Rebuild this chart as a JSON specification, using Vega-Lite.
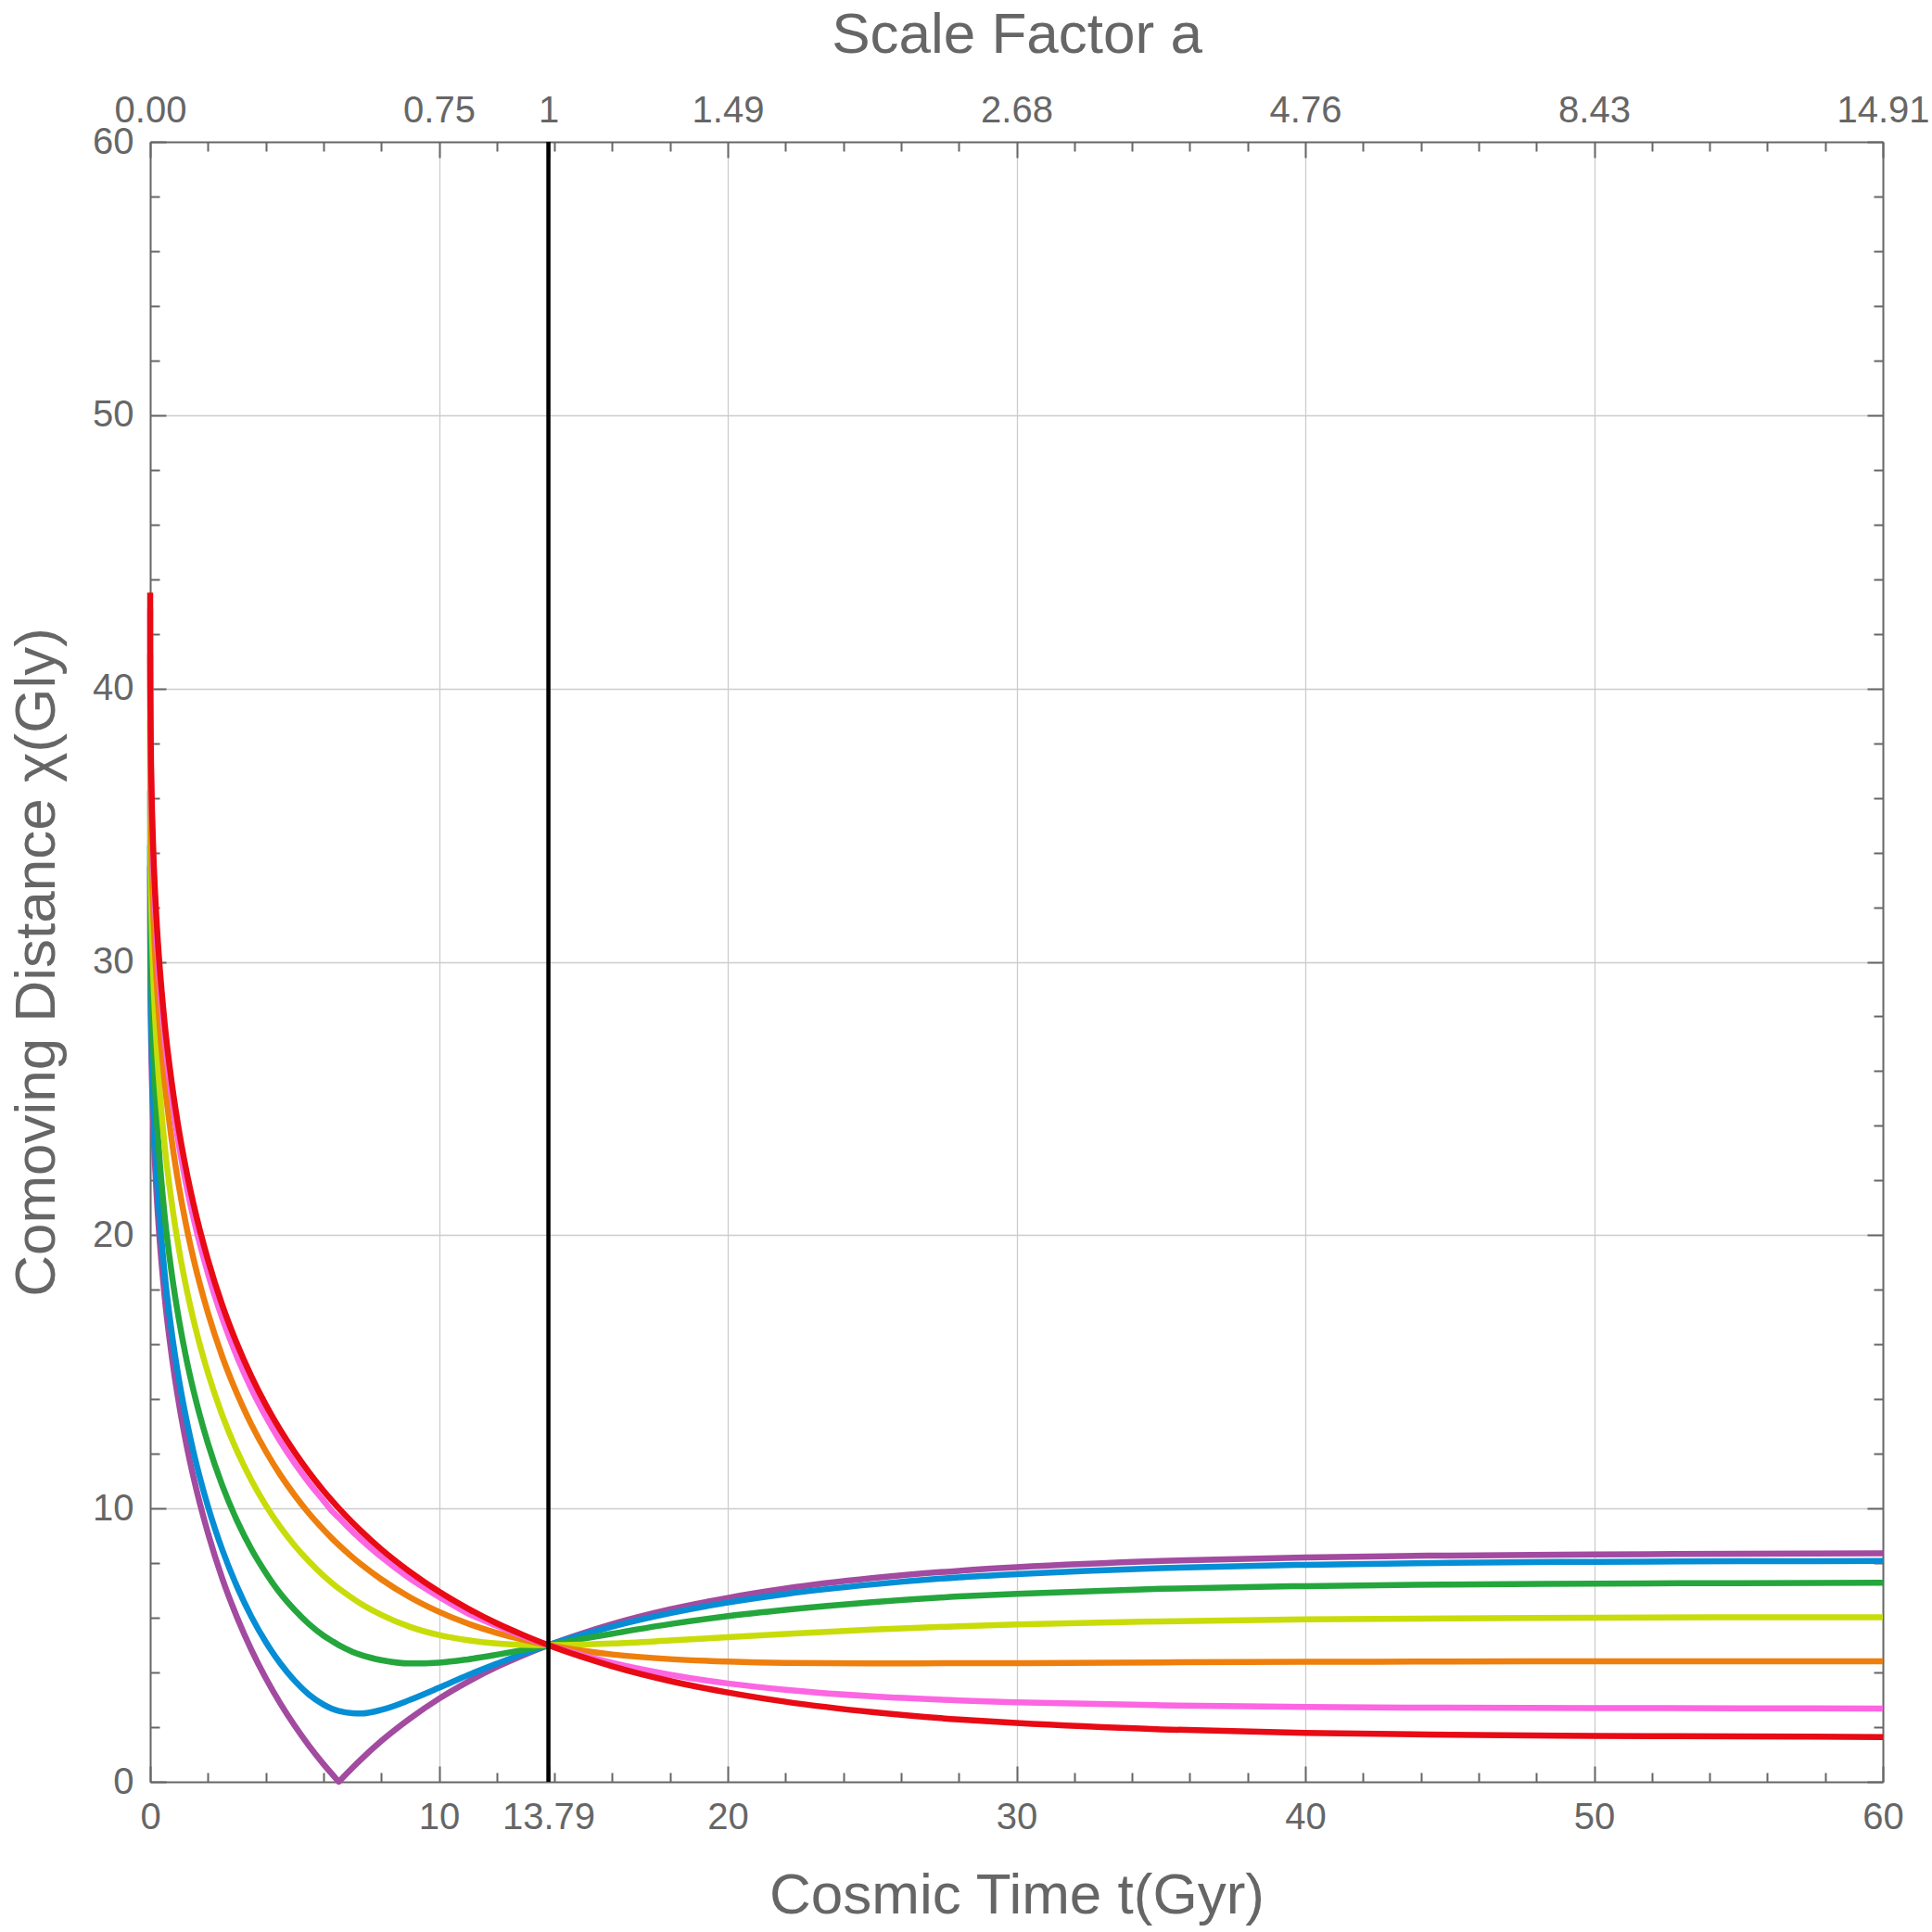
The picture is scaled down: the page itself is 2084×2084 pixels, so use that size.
{
  "$schema": "https://vega.github.io/schema/vega-lite/v6.json",
  "width": 1869,
  "height": 1769,
  "autosize": "none",
  "padding": {"left": 162, "top": 153, "right": 53, "bottom": 162},
  "background": "white",
  "config": {
    "font": "Liberation Sans",
    "view": {"stroke": null},
    "axis": {
      "domainColor": "#666666",
      "domainWidth": 2,
      "tickColor": "#666666",
      "tickWidth": 2,
      "labelColor": "#666666",
      "labelFont": "Liberation Sans",
      "labelFontSize": 40,
      "titleColor": "#666666",
      "titleFont": "Liberation Sans",
      "titleFontSize": 62,
      "titleFontWeight": "normal",
      "gridColor": "#cccccc",
      "gridWidth": 1.3,
      "labelFlush": false,
      "labelOverlap": false,
      "labelBound": false
    }
  },
  "resolve": {"axis": {"x": "independent", "y": "independent"}},
  "layer": [
    {
      "data": {
        "values": [
          {"t":0,"s":"a0","c":33.51},{"t":0.001,"s":"a0","c":31.52},{"t":0.005,"s":"a0","c":30.11},{"t":0.02,"s":"a0","c":28.12},{"t":0.05,"s":"a0","c":26.2},{"t":0.1,"s":"a0","c":24.3},{"t":0.2,"s":"a0","c":21.91},{"t":0.3,"s":"a0","c":20.23},{"t":0.5,"s":"a0","c":17.76},{"t":0.75,"s":"a0","c":15.55},{"t":1,"s":"a0","c":13.81},{"t":1.25,"s":"a0","c":12.37},{"t":1.5,"s":"a0","c":11.14},{"t":2,"s":"a0","c":9.1},{"t":2.5,"s":"a0","c":7.43},{"t":3,"s":"a0","c":6.04},{"t":3.5,"s":"a0","c":4.84},{"t":4,"s":"a0","c":3.8},{"t":4.5,"s":"a0","c":2.88},{"t":5,"s":"a0","c":2.06},{"t":5.5,"s":"a0","c":1.32},{"t":6,"s":"a0","c":0.65},{"t":6.3,"s":"a0","c":0.28},{"t":6.5,"s":"a0","c":0.04},{"t":6.536,"s":"a0","c":0},{"t":6.57,"s":"a0","c":0.04},{"t":7,"s":"a0","c":0.51},{"t":7.3,"s":"a0","c":0.82},{"t":8,"s":"a0","c":1.49},{"t":9,"s":"a0","c":2.32},{"t":10,"s":"a0","c":3.04},{"t":11,"s":"a0","c":3.66},{"t":12,"s":"a0","c":4.2},{"t":12.9,"s":"a0","c":4.62},{"t":13.79,"s":"a0","c":5},{"t":14.9,"s":"a0","c":5.41},{"t":16,"s":"a0","c":5.77},{"t":18,"s":"a0","c":6.31},{"t":20,"s":"a0","c":6.73},{"t":22,"s":"a0","c":7.07},{"t":25,"s":"a0","c":7.45},{"t":28,"s":"a0","c":7.72},{"t":30,"s":"a0","c":7.85},{"t":35,"s":"a0","c":8.08},{"t":40,"s":"a0","c":8.21},{"t":45,"s":"a0","c":8.28},{"t":50,"s":"a0","c":8.32},{"t":55,"s":"a0","c":8.34},{"t":60,"s":"a0","c":8.36},

          {"t":0,"s":"a30","c":34.27},{"t":0.001,"s":"a30","c":32.29},{"t":0.005,"s":"a30","c":30.88},{"t":0.02,"s":"a30","c":28.9},{"t":0.05,"s":"a30","c":26.99},{"t":0.1,"s":"a30","c":25.09},{"t":0.2,"s":"a30","c":22.72},{"t":0.3,"s":"a30","c":21.05},{"t":0.5,"s":"a30","c":18.6},{"t":0.75,"s":"a30","c":16.41},{"t":1,"s":"a30","c":14.69},{"t":1.25,"s":"a30","c":13.28},{"t":1.5,"s":"a30","c":12.07},{"t":2,"s":"a30","c":10.08},{"t":2.5,"s":"a30","c":8.48},{"t":3,"s":"a30","c":7.16},{"t":3.5,"s":"a30","c":6.05},{"t":4,"s":"a30","c":5.12},{"t":4.5,"s":"a30","c":4.34},{"t":5,"s":"a30","c":3.7},{"t":5.5,"s":"a30","c":3.19},{"t":6,"s":"a30","c":2.83},{"t":6.3,"s":"a30","c":2.67},{"t":6.536,"s":"a30","c":2.59},{"t":7,"s":"a30","c":2.51},{"t":7.3,"s":"a30","c":2.5},{"t":8,"s":"a30","c":2.63},{"t":9,"s":"a30","c":3},{"t":10,"s":"a30","c":3.44},{"t":11,"s":"a30","c":3.9},{"t":12,"s":"a30","c":4.32},{"t":12.9,"s":"a30","c":4.68},{"t":13.79,"s":"a30","c":5},{"t":14.9,"s":"a30","c":5.36},{"t":16,"s":"a30","c":5.68},{"t":18,"s":"a30","c":6.17},{"t":20,"s":"a30","c":6.56},{"t":22,"s":"a30","c":6.87},{"t":25,"s":"a30","c":7.22},{"t":28,"s":"a30","c":7.48},{"t":30,"s":"a30","c":7.6},{"t":35,"s":"a30","c":7.82},{"t":40,"s":"a30","c":7.94},{"t":45,"s":"a30","c":8.01},{"t":50,"s":"a30","c":8.05},{"t":55,"s":"a30","c":8.07},{"t":60,"s":"a30","c":8.08},

          {"t":0,"s":"a60","c":36.27},{"t":0.001,"s":"a60","c":34.29},{"t":0.005,"s":"a60","c":32.9},{"t":0.02,"s":"a60","c":30.93},{"t":0.05,"s":"a60","c":29.03},{"t":0.1,"s":"a60","c":27.15},{"t":0.2,"s":"a60","c":24.79},{"t":0.3,"s":"a60","c":23.14},{"t":0.5,"s":"a60","c":20.72},{"t":0.75,"s":"a60","c":18.56},{"t":1,"s":"a60","c":16.88},{"t":1.25,"s":"a60","c":15.49},{"t":1.5,"s":"a60","c":14.31},{"t":2,"s":"a60","c":12.38},{"t":2.5,"s":"a60","c":10.83},{"t":3,"s":"a60","c":9.57},{"t":3.5,"s":"a60","c":8.52},{"t":4,"s":"a60","c":7.65},{"t":4.5,"s":"a60","c":6.9},{"t":5,"s":"a60","c":6.29},{"t":5.5,"s":"a60","c":5.77},{"t":6,"s":"a60","c":5.35},{"t":6.3,"s":"a60","c":5.15},{"t":6.536,"s":"a60","c":5},{"t":7,"s":"a60","c":4.76},{"t":7.3,"s":"a60","c":4.64},{"t":8,"s":"a60","c":4.45},{"t":9,"s":"a60","c":4.33},{"t":10,"s":"a60","c":4.36},{"t":11,"s":"a60","c":4.48},{"t":12,"s":"a60","c":4.65},{"t":12.9,"s":"a60","c":4.82},{"t":13.79,"s":"a60","c":5},{"t":14.9,"s":"a60","c":5.22},{"t":16,"s":"a60","c":5.42},{"t":18,"s":"a60","c":5.77},{"t":20,"s":"a60","c":6.06},{"t":22,"s":"a60","c":6.29},{"t":25,"s":"a60","c":6.57},{"t":28,"s":"a60","c":6.78},{"t":30,"s":"a60","c":6.88},{"t":35,"s":"a60","c":7.06},{"t":40,"s":"a60","c":7.16},{"t":45,"s":"a60","c":7.22},{"t":50,"s":"a60","c":7.25},{"t":55,"s":"a60","c":7.27},{"t":60,"s":"a60","c":7.28},

          {"t":0,"s":"a90","c":38.83},{"t":0.001,"s":"a90","c":36.86},{"t":0.005,"s":"a90","c":35.46},{"t":0.02,"s":"a90","c":33.5},{"t":0.05,"s":"a90","c":31.6},{"t":0.1,"s":"a90","c":29.72},{"t":0.2,"s":"a90","c":27.37},{"t":0.3,"s":"a90","c":25.72},{"t":0.5,"s":"a90","c":23.3},{"t":0.75,"s":"a90","c":21.15},{"t":1,"s":"a90","c":19.46},{"t":1.25,"s":"a90","c":18.08},{"t":1.5,"s":"a90","c":16.9},{"t":2,"s":"a90","c":14.96},{"t":2.5,"s":"a90","c":13.4},{"t":3,"s":"a90","c":12.12},{"t":3.5,"s":"a90","c":11.04},{"t":4,"s":"a90","c":10.12},{"t":4.5,"s":"a90","c":9.33},{"t":5,"s":"a90","c":8.65},{"t":5.5,"s":"a90","c":8.06},{"t":6,"s":"a90","c":7.54},{"t":6.3,"s":"a90","c":7.27},{"t":6.536,"s":"a90","c":7.07},{"t":7,"s":"a90","c":6.72},{"t":7.3,"s":"a90","c":6.51},{"t":8,"s":"a90","c":6.11},{"t":9,"s":"a90","c":5.67},{"t":10,"s":"a90","c":5.37},{"t":11,"s":"a90","c":5.18},{"t":12,"s":"a90","c":5.06},{"t":12.9,"s":"a90","c":5.01},{"t":13.79,"s":"a90","c":5},{"t":14.9,"s":"a90","c":5.02},{"t":16,"s":"a90","c":5.06},{"t":18,"s":"a90","c":5.17},{"t":20,"s":"a90","c":5.29},{"t":22,"s":"a90","c":5.41},{"t":25,"s":"a90","c":5.57},{"t":28,"s":"a90","c":5.69},{"t":30,"s":"a90","c":5.76},{"t":35,"s":"a90","c":5.87},{"t":40,"s":"a90","c":5.94},{"t":45,"s":"a90","c":5.98},{"t":50,"s":"a90","c":6},{"t":55,"s":"a90","c":6.02},{"t":60,"s":"a90","c":6.02},

          {"t":0,"s":"a120","c":41.24},{"t":0.001,"s":"a120","c":39.26},{"t":0.005,"s":"a120","c":37.86},{"t":0.02,"s":"a120","c":35.88},{"t":0.05,"s":"a120","c":33.98},{"t":0.1,"s":"a120","c":32.09},{"t":0.2,"s":"a120","c":29.73},{"t":0.3,"s":"a120","c":28.07},{"t":0.5,"s":"a120","c":25.63},{"t":0.75,"s":"a120","c":23.45},{"t":1,"s":"a120","c":21.75},{"t":1.25,"s":"a120","c":20.34},{"t":1.5,"s":"a120","c":19.14},{"t":2,"s":"a120","c":17.16},{"t":2.5,"s":"a120","c":15.55},{"t":3,"s":"a120","c":14.22},{"t":3.5,"s":"a120","c":13.08},{"t":4,"s":"a120","c":12.1},{"t":4.5,"s":"a120","c":11.24},{"t":5,"s":"a120","c":10.49},{"t":5.5,"s":"a120","c":9.82},{"t":6,"s":"a120","c":9.23},{"t":6.3,"s":"a120","c":8.9},{"t":6.536,"s":"a120","c":8.66},{"t":7,"s":"a120","c":8.22},{"t":7.3,"s":"a120","c":7.96},{"t":8,"s":"a120","c":7.41},{"t":9,"s":"a120","c":6.75},{"t":10,"s":"a120","c":6.22},{"t":11,"s":"a120","c":5.79},{"t":12,"s":"a120","c":5.45},{"t":12.9,"s":"a120","c":5.2},{"t":13.79,"s":"a120","c":5},{"t":14.9,"s":"a120","c":4.81},{"t":16,"s":"a120","c":4.66},{"t":18,"s":"a120","c":4.49},{"t":20,"s":"a120","c":4.4},{"t":22,"s":"a120","c":4.35},{"t":25,"s":"a120","c":4.33},{"t":28,"s":"a120","c":4.34},{"t":30,"s":"a120","c":4.34},{"t":35,"s":"a120","c":4.37},{"t":40,"s":"a120","c":4.39},{"t":45,"s":"a120","c":4.4},{"t":50,"s":"a120","c":4.41},{"t":55,"s":"a120","c":4.41},{"t":60,"s":"a120","c":4.41},

          {"t":0,"s":"a150","c":42.91},{"t":0.001,"s":"a150","c":40.93},{"t":0.005,"s":"a150","c":39.52},{"t":0.02,"s":"a150","c":37.53},{"t":0.05,"s":"a150","c":35.62},{"t":0.1,"s":"a150","c":33.72},{"t":0.2,"s":"a150","c":31.34},{"t":0.3,"s":"a150","c":29.67},{"t":0.5,"s":"a150","c":27.21},{"t":0.75,"s":"a150","c":25.01},{"t":1,"s":"a150","c":23.27},{"t":1.25,"s":"a150","c":21.84},{"t":1.5,"s":"a150","c":20.62},{"t":2,"s":"a150","c":18.6},{"t":2.5,"s":"a150","c":16.95},{"t":3,"s":"a150","c":15.57},{"t":3.5,"s":"a150","c":14.39},{"t":4,"s":"a150","c":13.37},{"t":4.5,"s":"a150","c":12.46},{"t":5,"s":"a150","c":11.66},{"t":5.5,"s":"a150","c":10.94},{"t":6,"s":"a150","c":10.29},{"t":6.3,"s":"a150","c":9.9},{"t":6.536,"s":"a150","c":9.66},{"t":7,"s":"a150","c":9.16},{"t":7.3,"s":"a150","c":8.87},{"t":8,"s":"a150","c":8.23},{"t":9,"s":"a150","c":7.43},{"t":10,"s":"a150","c":6.77},{"t":11,"s":"a150","c":6.16},{"t":12,"s":"a150","c":5.71},{"t":12.9,"s":"a150","c":5.33},{"t":13.79,"s":"a150","c":5},{"t":14.9,"s":"a150","c":4.65},{"t":16,"s":"a150","c":4.35},{"t":18,"s":"a150","c":3.92},{"t":20,"s":"a150","c":3.6},{"t":22,"s":"a150","c":3.37},{"t":25,"s":"a150","c":3.13},{"t":28,"s":"a150","c":2.98},{"t":30,"s":"a150","c":2.91},{"t":35,"s":"a150","c":2.8},{"t":40,"s":"a150","c":2.74},{"t":45,"s":"a150","c":2.71},{"t":50,"s":"a150","c":2.7},{"t":55,"s":"a150","c":2.69},{"t":60,"s":"a150","c":2.68},

          {"t":0,"s":"a180","c":43.51},{"t":0.001,"s":"a180","c":41.52},{"t":0.005,"s":"a180","c":40.11},{"t":0.02,"s":"a180","c":38.12},{"t":0.05,"s":"a180","c":36.2},{"t":0.1,"s":"a180","c":34.3},{"t":0.2,"s":"a180","c":31.91},{"t":0.3,"s":"a180","c":30.23},{"t":0.5,"s":"a180","c":27.76},{"t":0.75,"s":"a180","c":25.55},{"t":1,"s":"a180","c":23.81},{"t":1.25,"s":"a180","c":22.37},{"t":1.5,"s":"a180","c":21.14},{"t":2,"s":"a180","c":19.1},{"t":2.5,"s":"a180","c":17.43},{"t":3,"s":"a180","c":16.04},{"t":3.5,"s":"a180","c":14.84},{"t":4,"s":"a180","c":13.8},{"t":4.5,"s":"a180","c":12.88},{"t":5,"s":"a180","c":12.06},{"t":5.5,"s":"a180","c":11.32},{"t":6,"s":"a180","c":10.65},{"t":6.3,"s":"a180","c":10.28},{"t":6.536,"s":"a180","c":10},{"t":7,"s":"a180","c":9.49},{"t":7.3,"s":"a180","c":9.18},{"t":8,"s":"a180","c":8.51},{"t":9,"s":"a180","c":7.68},{"t":10,"s":"a180","c":6.96},{"t":11,"s":"a180","c":6.34},{"t":12,"s":"a180","c":5.8},{"t":12.9,"s":"a180","c":5.38},{"t":13.79,"s":"a180","c":5},{"t":14.9,"s":"a180","c":4.59},{"t":16,"s":"a180","c":4.23},{"t":18,"s":"a180","c":3.69},{"t":20,"s":"a180","c":3.27},{"t":22,"s":"a180","c":2.93},{"t":25,"s":"a180","c":2.55},{"t":28,"s":"a180","c":2.28},{"t":30,"s":"a180","c":2.15},{"t":35,"s":"a180","c":1.92},{"t":40,"s":"a180","c":1.79},{"t":45,"s":"a180","c":1.72},{"t":50,"s":"a180","c":1.68},{"t":55,"s":"a180","c":1.66},{"t":60,"s":"a180","c":1.64}
        ]
      },
      "mark": {"type": "line", "interpolate": "monotone", "strokeWidth": 6.5, "strokeJoin": "round"},
      "encoding": {
        "x": {
          "field": "t",
          "type": "quantitative",
          "scale": {"domain": [0, 60], "nice": false},
          "axis": {
            "orient": "bottom",
            "title": "Cosmic Time t(Gyr)",
            "titleY": 141,
            "titleBaseline": "alphabetic",
            "values": [0,2,4,6,8,10,12,13.79,14,16,18,20,22,24,26,28,30,32,34,36,38,40,42,44,46,48,50,52,54,56,58,60],
            "format": ".2~f",
            "labelExpr": "datum.value % 10 === 0 || datum.value === 13.79 ? datum.label : ''",
            "labelBaseline": "alphabetic",
            "labelPadding": 67,
            "grid": true,
            "gridOpacity": {"condition": {"test": "datum.value % 10 === 0 && datum.value > 0 && datum.value < 60", "value": 1}, "value": 0},
            "tickSize": {"condition": {"test": "datum.value % 10 === 0 || datum.value === 13.79", "value": -17}, "value": -10}
          }
        },
        "y": {
          "field": "c",
          "type": "quantitative",
          "scale": {"domain": [0, 60], "nice": false},
          "axis": {
            "orient": "left",
            "title": "Comoving Distance χ(Gly)",
            "titleX": -104,
            "titleBaseline": "alphabetic",
            "values": [0,2,4,6,8,10,12,14,16,18,20,22,24,26,28,30,32,34,36,38,40,42,44,46,48,50,52,54,56,58,60],
            "format": "d",
            "labelExpr": "datum.value % 10 === 0 ? datum.label : ''",
            "labelPadding": 35,
            "grid": true,
            "gridOpacity": {"condition": {"test": "datum.value % 10 === 0 && datum.value > 0 && datum.value < 60", "value": 1}, "value": 0},
            "tickSize": {"condition": {"test": "datum.value % 10 === 0", "value": -17}, "value": -10}
          }
        },
        "color": {
          "field": "s",
          "type": "nominal",
          "scale": {
            "domain": ["a0", "a30", "a60", "a90", "a120", "a150", "a180"],
            "range": ["#A24BA0", "#058ED5", "#24A63C", "#C8DC0A", "#EE7F0C", "#FC66E2", "#E80A14"]
          },
          "legend": null
        }
      }
    },
    {
      "data": {"values": [{"t": 13.79}]},
      "mark": {"type": "rule", "color": "black", "strokeWidth": 4.5},
      "encoding": {
        "x": {
          "field": "t",
          "type": "quantitative",
          "scale": {"domain": [0, 60], "nice": false},
          "axis": {
            "orient": "top",
            "title": "Scale Factor a",
            "titleY": -97,
            "titleBaseline": "alphabetic",
            "values": [0,2,4,6,8,10,12,13.79,14,16,18,20,22,24,26,28,30,32,34,36,38,40,42,44,46,48,50,52,54,56,58,60],
            "labelExpr": "datum.value === 0 ? '0.00' : datum.value === 10 ? '0.75' : datum.value === 13.79 ? '1' : datum.value === 20 ? '1.49' : datum.value === 30 ? '2.68' : datum.value === 40 ? '4.76' : datum.value === 50 ? '8.43' : datum.value === 60 ? '14.91' : ''",
            "labelBaseline": "alphabetic",
            "labelPadding": 39,
            "grid": false,
            "tickSize": {"condition": {"test": "datum.value % 10 === 0 || datum.value === 13.79", "value": -17}, "value": -10}
          }
        },
        "y": {
          "datum": 0,
          "type": "quantitative",
          "scale": {"domain": [0, 60], "nice": false},
          "axis": {
            "orient": "right",
            "title": null,
            "labels": false,
            "grid": false,
            "values": [0,2,4,6,8,10,12,14,16,18,20,22,24,26,28,30,32,34,36,38,40,42,44,46,48,50,52,54,56,58,60],
            "tickSize": {"condition": {"test": "datum.value % 10 === 0", "value": -17}, "value": -10}
          }
        },
        "y2": {"datum": 60}
      }
    }
  ]
}
